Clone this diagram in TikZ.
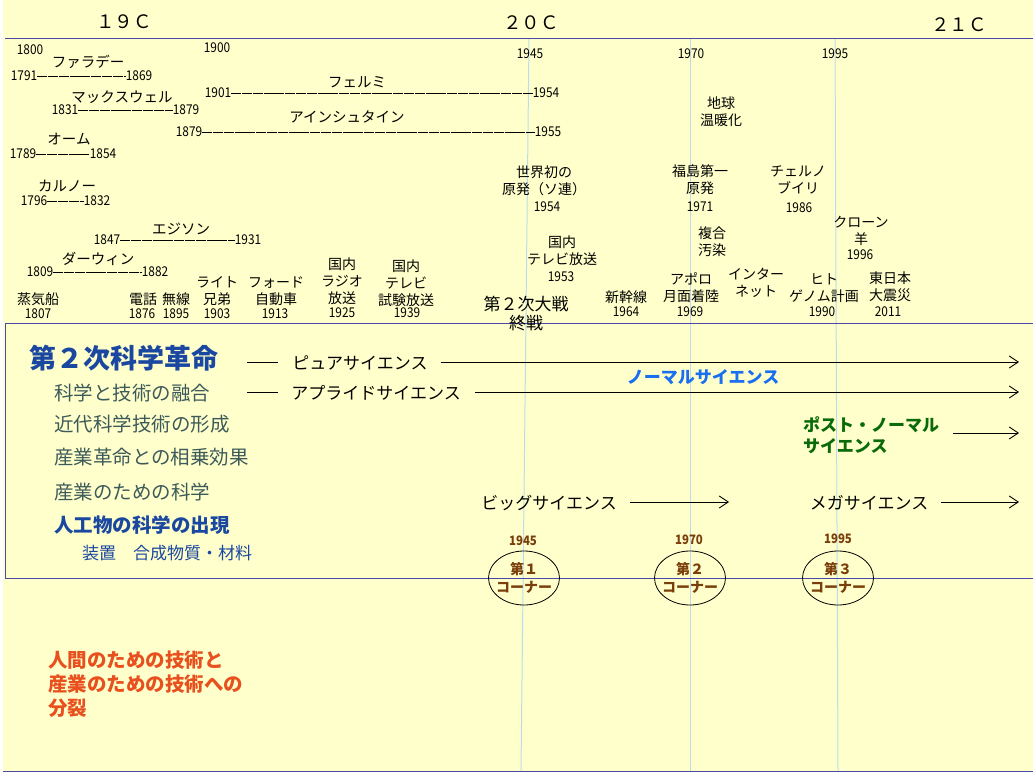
\documentclass[tikz,border=0pt]{standalone}
\usepackage{fontspec}
\setmainfont{Noto Sans CJK JP}
\newfontfamily\jpf{Noto Sans CJK JP}
\newfontfamily\numf[FakeStretch=0.88]{Noto Sans CJK JP}
\usetikzlibrary{arrows.meta,shapes.geometric}
\definecolor{bg}{HTML}{FFFFCC}
\definecolor{frameblue}{HTML}{4A4AA6}
\definecolor{vblue}{HTML}{BCDCEC}
\definecolor{revblue}{HTML}{1A48A0}
\definecolor{slate}{HTML}{3D5A5A}
\definecolor{normblue}{HTML}{1A6EF0}
\definecolor{postgreen}{HTML}{0A6A0A}
\definecolor{brownc}{HTML}{7A3E0A}
\definecolor{redc}{HTML}{E8501E}
\begin{document}
\begin{tikzpicture}[x=1pt,y=-1pt,
  every node/.style={inner sep=0pt,outer sep=0pt},
  ev/.style={font=\jpf\fontsize{14}{17}\selectfont,align=center},
  nm/.style={font=\jpf\fontsize{14.5}{17}\selectfont},
  yr/.style={font=\numf\fontsize{13.5}{15}\selectfont},
  life/.style={draw,line width=0.6pt,dash pattern=on 10pt off 0.8pt},
  era/.style={font=\jpf\fontsize{18.5}{20}\selectfont},
  frame/.style={draw=frameblue,line width=1pt},
  vline/.style={draw=vblue,line width=1pt},
  side/.style={font=\jpf\fontsize{19.5}{22}\selectfont,text=slate,anchor=west},
  sci/.style={font=\jpf\fontsize{17}{20}\selectfont},
  arr/.style={draw,line width=0.9pt,-{Straight Barb[length=9pt,width=12pt]}},
  cornerov/.style={draw,line width=0.8pt,ellipse,minimum width=71pt,minimum height=54pt},
  cornertxt/.style={font=\jpf\bfseries\fontsize{14}{18}\selectfont,text=brownc,align=center},
  cyr/.style={font=\numf\bfseries\fontsize{13}{15}\selectfont,text=brownc}
]
% background and frame
\fill[bg] (3,0) rectangle (1033,771);
\useasboundingbox (0,0) rectangle (1033,773);
% vertical year lines
\coordinate (v1t) at (529,39); \coordinate (v1b) at (521,771);
\coordinate (v2t) at (690,39); \coordinate (v2b) at (690,771);
\coordinate (v3t) at (835,39); \coordinate (v3b) at (838,771);
\draw[vline] (v1t) -- (v1b);
\draw[vline] (v2t) -- (v2b);
\draw[vline] (v3t) -- (v3b);
% horizontal frame lines
\coordinate (tl) at (5,39); \coordinate (tr) at (1033,39);
\draw[frame] (tl) -- (tr);
\coordinate (b1) at (5,323); \coordinate (b2) at (1033,323);
\coordinate (b3) at (5,578); \coordinate (b4) at (1033,578);
\draw[frame] (b2) -- (b1) -- (b3) -- (b4);
\coordinate (bl) at (3,771); \coordinate (br) at (1033,771);
\draw[frame] (bl) -- (br);
% centuries
\node[era] (c19) at (124,22) {１９Ｃ};
\node[era] (c20) at (531,23) {２０Ｃ};
\node[era] (c21) at (959,25) {２１Ｃ};
% year marks
\node[yr] (y1800) at (30,50) {1800};
\node[yr] (y1900) at (217,48) {1900};
\node[yr] (y1945) at (530,54) {1945};
\node[yr] (y1970) at (691,54) {1970};
\node[yr] (y1995) at (835,54) {1995};
% persons
\node[nm] (faraday) at (88,62) {ファラデー};
\node[yr] (f1) at (24,76) {1791};
\node[yr] (f2) at (139,76) {1869};
\draw[life] (f1.east) -- (f2.west);
\node[nm] (maxwell) at (122,97) {マックスウェル};
\node[yr] (m1) at (65,110) {1831};
\node[yr] (m2) at (186,110) {1879};
\draw[life] (m1.east) -- (m2.west);
\node[nm] (ohm) at (69,139) {オーム};
\node[yr] (o1) at (23,154) {1789};
\node[yr] (o2) at (103,154) {1854};
\draw[life] (o1.east) -- (o2.west);
\node[nm] (carnot) at (67,186) {カルノー};
\node[yr] (ca1) at (34,201) {1796};
\node[yr] (ca2) at (97,201) {1832};
\draw[life] (ca1.east) -- (ca2.west);
\node[nm] (edison) at (181,229) {エジソン};
\node[yr] (e1) at (107,240) {1847};
\node[yr] (e2) at (248,240) {1931};
\draw[life] (e1.east) -- (e2.west);
\node[nm] (darwin) at (98,259) {ダーウィン};
\node[yr] (d1) at (40,272) {1809};
\node[yr] (d2) at (155,272) {1882};
\draw[life] (d1.east) -- (d2.west);
\node[nm] (fermi) at (357,82) {フェルミ};
\node[yr] (fe1) at (218,93) {1901};
\node[yr] (fe2) at (546,93) {1954};
\draw[life] (fe1.east) -- (fe2.west);
\node[nm] (einstein) at (347,117) {アインシュタイン};
\node[yr] (ei1) at (189,132) {1879};
\node[yr] (ei2) at (548,132) {1955};
\draw[life] (ei1.east) -- (ei2.west);
% events, bottom row
\node[ev] (steam) at (38,299) {蒸気船};
\node[yr] (steamy) at (38,314) {1807};
\node[ev] (tel) at (143,299) {電話};
\node[yr] (tely) at (142,314) {1876};
\node[ev] (radio) at (176,299) {無線};
\node[yr] (radioy) at (176,314) {1895};
\node[ev] (wright) at (217,291) {ライト\\兄弟};
\node[yr] (wrighty) at (217,314) {1903};
\node[ev] (ford) at (276,291) {フォード\\自動車};
\node[yr] (fordy) at (275,314) {1913};
\node[ev] (jradio) at (342,281) {国内\\ラジオ\\放送};
\node[yr] (jradioy) at (342,313) {1925};
\node[ev] (jtvt) at (406,283) {国内\\テレビ\\試験放送};
\node[yr] (jtvty) at (407,313) {1939};
\node[ev,font=\jpf\fontsize{17}{19}\selectfont] (ww2) at (526,314) {第２次大戦\\終戦};
\node[ev] (nuke) at (544,181) {世界初の\\原発（ソ連）};
\node[yr] (nukey) at (547,207) {1954};
\node[ev] (jtv) at (562,251) {国内\\テレビ放送};
\node[yr] (jtvy) at (561,277) {1953};
\node[ev] (shink) at (626,297) {新幹線};
\node[yr] (shinky) at (626,312) {1964};
\node[ev] (warm) at (721,112) {地球\\温暖化};
\node[ev] (fuku) at (700,180) {福島第一\\原発};
\node[yr] (fukuy) at (700,207) {1971};
\node[ev] (cher) at (798,180) {チェルノ\\ブイリ};
\node[yr] (chery) at (799,208) {1986};
\node[ev] (pollu) at (712,242) {複合\\汚染};
\node[ev] (clone) at (861,231) {クローン\\羊};
\node[yr] (cloney) at (860,255) {1996};
\node[ev] (apollo) at (691,288) {アポロ\\月面着陸};
\node[yr] (apolloy) at (690,312) {1969};
\node[ev] (inet) at (756,283) {インター\\ネット};
\node[ev] (genome) at (824,288) {ヒト\\ゲノム計画};
\node[yr] (genomey) at (822,312) {1990};
\node[ev] (quake) at (890,287) {東日本\\大震災};
\node[yr] (quakey) at (888,312) {2011};
% left column in box
\node[font=\jpf\bfseries\fontsize{27}{29}\selectfont,text=revblue,anchor=west] (rev) at (29,358) {第２次科学革命};
\node[side] (fuse) at (54,393) {科学と技術の融合};
\node[side] (form) at (54,424) {近代科学技術の形成};
\node[side] (syn) at (54,457) {産業革命との相乗効果};
\node[side] (ind) at (54,492) {産業のための科学};
\node[side,font=\jpf\bfseries\fontsize{19.5}{22}\selectfont,text=revblue] (art) at (54,525) {人工物の科学の出現};
\node[font=\jpf\fontsize{17}{20}\selectfont,text=revblue,anchor=west] (dev) at (82,553) {装置　合成物質・材料};
% sciences
\node[sci] (pure) at (360,363) {ピュアサイエンス};
\coordinate (pd1) at (247,362); \coordinate (pd2) at (278,362);
\draw[line width=0.9pt] (pd1) -- (pd2);
\coordinate (pureend) at (1019,362);
\draw[arr] ([xshift=13pt]pure.east |- pureend) -- (pureend);
\node[sci] (appl) at (376,393) {アプライドサイエンス};
\coordinate (ad1) at (247,392); \coordinate (ad2) at (278,392);
\draw[line width=0.9pt] (ad1) -- (ad2);
\coordinate (applend) at (1019,392);
\draw[arr] ([xshift=14pt]appl.east |- applend) -- (applend);
\node[sci,font=\jpf\bfseries\fontsize{17}{20}\selectfont,text=normblue] (normal) at (703,377) {ノーマルサイエンス};
\node[sci,font=\jpf\bfseries\fontsize{17}{21}\selectfont,text=postgreen,align=left,anchor=west] (post) at (803,435) {ポスト・ノーマル\\サイエンス};
\coordinate (postend) at (1019,433);
\draw[arr] (953,433) -- (postend);
\node[sci] (big) at (549,503) {ビッグサイエンス};
\coordinate (bigend) at (729,502);
\draw[arr] ([xshift=13pt]big.east |- bigend) -- (bigend);
\node[sci] (mega) at (869,503) {メガサイエンス};
\coordinate (megaend) at (1019,502);
\draw[arr] ([xshift=13pt]mega.east |- megaend) -- (megaend);
% corners
\node[cyr] (k1y) at (523,541) {1945};
\node[cyr] (k2y) at (689,540) {1970};
\node[cyr] (k3y) at (838,539) {1995};
\node[cornerov] (k1) at (524,578) {};
\node[cornerov] (k2) at (690,578) {};
\node[cornerov] (k3) at (838,578) {};
\node[cornertxt] (k1t) at (k1) {第１\\コーナー};
\node[cornertxt] (k2t) at (k2) {第２\\コーナー};
\node[cornertxt] (k3t) at (k3) {第３\\コーナー};
% bottom note
\node[font=\jpf\bfseries\fontsize{19.5}{24}\selectfont,text=redc,align=left,anchor=west] (split) at (48,684) {人間のための技術と\\産業のための技術への\\分裂};
\end{tikzpicture}
\end{document}
